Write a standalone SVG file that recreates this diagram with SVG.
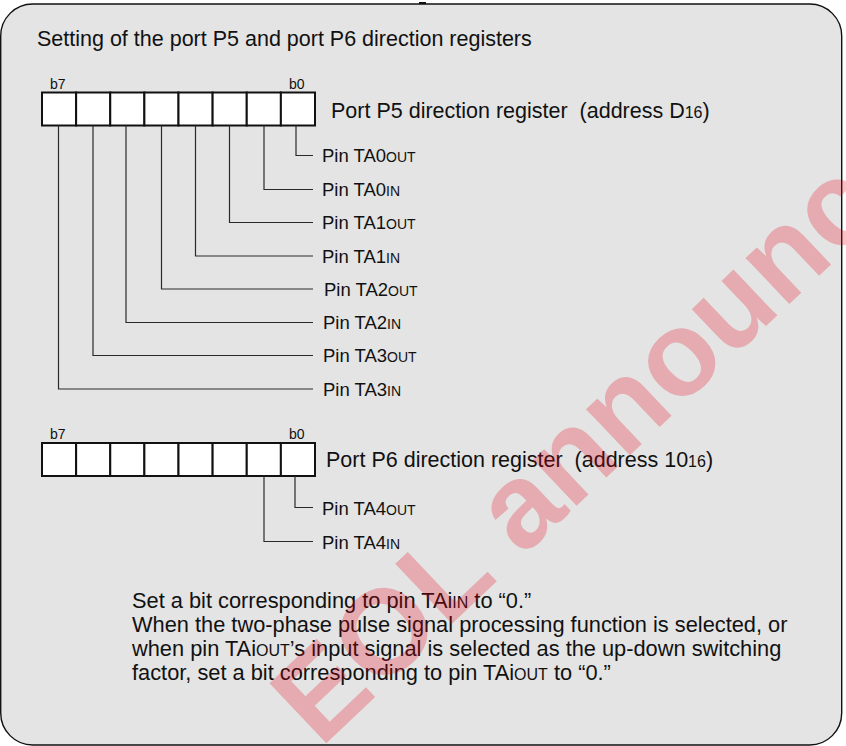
<svg xmlns="http://www.w3.org/2000/svg" width="846" height="746" viewBox="0 0 846 746">
<style>
text{font-family:"Liberation Sans",Arial,Helvetica,sans-serif;fill:#111}
.big{font-size:21.5px}
.note{font-size:21.8px}
.pin{font-size:18.5px}
.bit{font-size:14px}
.s1{font-size:14px}
.s2{font-size:16px}
.cell{fill:#fff;stroke:#111;stroke-width:2}
.conn{fill:none;stroke:#2a2a2a;stroke-width:1.2}
.wm{font-family:"Liberation Sans",Arial,sans-serif;font-weight:bold;font-size:120px;fill:#e60012;fill-opacity:0.25}
</style>
<defs>
<g id="reg">
<rect class="cell" x="42" y="0" width="34.125" height="33"/>
<rect class="cell" x="76.125" y="0" width="34.125" height="33"/>
<rect class="cell" x="110.25" y="0" width="34.125" height="33"/>
<rect class="cell" x="144.375" y="0" width="34.125" height="33"/>
<rect class="cell" x="178.5" y="0" width="34.125" height="33"/>
<rect class="cell" x="212.625" y="0" width="34.125" height="33"/>
<rect class="cell" x="246.75" y="0" width="34.125" height="33"/>
<rect class="cell" x="280.875" y="0" width="34.125" height="33"/>
</g>
</defs>
<rect x="0.7" y="4" width="841" height="741" rx="32" ry="32" fill="#e4e4e4" stroke="#111" stroke-width="1.4"/>
<rect x="419" y="2" width="7" height="2" fill="#111"/>
<text id="title" class="big" x="37" y="46">Setting of the port P5 and port P6 direction registers</text>

<g id="reg-p5">
<use href="#reg" y="92.5"/>
<text class="bit" x="50" y="89">b7</text>
<text class="bit" x="289" y="89">b0</text>
<text class="big" x="331" y="118">Port P5 direction register&#160; (address D<tspan class="s2">16</tspan>)</text>
</g>

<g id="reg-p6">
<use href="#reg" y="443"/>
<text class="bit" x="50" y="439">b7</text>
<text class="bit" x="289" y="439">b0</text>
<text class="big" x="326" y="467">Port P6 direction register&#160; (address 10<tspan class="s2">16</tspan>)</text>
</g>

<g id="connectors">
<polyline class="conn" points="296,125.5 296,155.5 313,155.5"/>
<polyline class="conn" points="264,125.5 264,189.5 313,189.5"/>
<polyline class="conn" points="229.5,125.5 229.5,222.5 313,222.5"/>
<polyline class="conn" points="195.5,125.5 195.5,256 313,256"/>
<polyline class="conn" points="161.5,125.5 161.5,289 313,289"/>
<polyline class="conn" points="126,125.5 126,322.5 313,322.5"/>
<polyline class="conn" points="93,125.5 93,355.5 313,355.5"/>
<polyline class="conn" points="58.5,125.5 58.5,389 313,389"/>
<polyline class="conn" points="295,476 295,507.5 313,507.5"/>
<polyline class="conn" points="264,476 264,541.5 313,541.5"/>
</g>

<g id="pins">
<text class="pin" x="322" y="162">Pin TA0<tspan class="s1">OUT</tspan></text>
<text class="pin" x="322" y="196">Pin TA0<tspan class="s1">IN</tspan></text>
<text class="pin" x="322" y="229">Pin TA1<tspan class="s1">OUT</tspan></text>
<text class="pin" x="322" y="262.5">Pin TA1<tspan class="s1">IN</tspan></text>
<text class="pin" x="324" y="295.5">Pin TA2<tspan class="s1">OUT</tspan></text>
<text class="pin" x="323" y="329">Pin TA2<tspan class="s1">IN</tspan></text>
<text class="pin" x="323" y="362">Pin TA3<tspan class="s1">OUT</tspan></text>
<text class="pin" x="323" y="395.5">Pin TA3<tspan class="s1">IN</tspan></text>
<text class="pin" x="322" y="515">Pin TA4<tspan class="s1">OUT</tspan></text>
<text class="pin" x="322" y="549">Pin TA4<tspan class="s1">IN</tspan></text>
</g>

<g id="note">
<text class="note" x="132" y="608">Set a bit corresponding to pin TAi<tspan class="s2">IN</tspan> to “0.”</text>
<text class="note" x="132" y="632">When the two-phase pulse signal processing function is selected, or</text>
<text class="note" x="132" y="656">when pin TAi<tspan class="s2">OUT</tspan>’s input signal is selected as the up-down switching</text>
<text class="note" x="132" y="680">factor, set a bit corresponding to pin TAi<tspan class="s2">OUT</tspan> to “0.”</text>
</g>

<text class="wm" transform="translate(320.6,748.7) rotate(-43.5)">EOL announced</text>
</svg>
